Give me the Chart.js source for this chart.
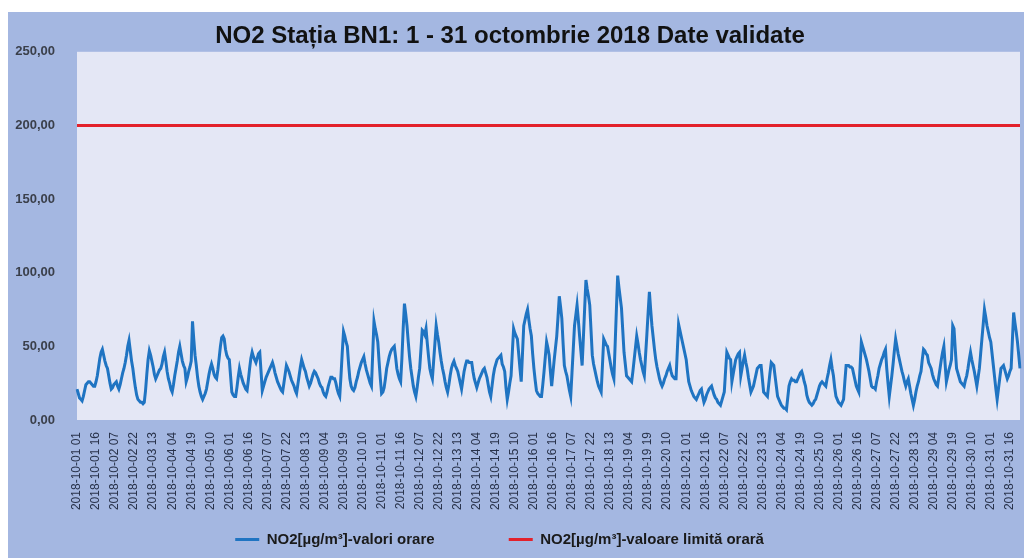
<!DOCTYPE html>
<html>
<head>
<meta charset="utf-8">
<script src="https://cdn.jsdelivr.net/npm/chart.js@4.4.0/dist/chart.umd.min.js"></script>
<style>
  html, body { margin: 0; padding: 0; background: #fff; }
</style>
</head>
<body>
<canvas id="no2Chart" width="1024" height="558"></canvas>
<script>
// categories: hourly values, 1 - 31 Oct 2018, hours 01..24
const luna = '2018-10';
const zile = 31;
const ore = 24;
const pasEticheta = 15; // a tick label every 15 hours

// NO2 hourly values (µg/m3), one row per day
const no2Orare = [
  21,18,15,14,13,16,20,24,25,26,26,25,24,23,23,26,30,36,42,46,48,44,40,37, // 01
  35,30,25,21,22,24,25,26,23,21,24,28,32,35,39,44,50,54,47,40,35,28,22,17, // 02
  14,13,12,12,11,12,20,31,41,47,44,40,36,31,28,30,32,34,35,38,43,46,40,33, // 03
  28,25,21,19,24,30,35,40,46,50,45,40,37,35,26,29,33,36,40,67,55,44,37,29, // 04
  23,19,16,14,16,18,21,26,31,35,38,35,31,29,28,34,42,50,56,57,55,48,44,42, // 05
  41,30,19,17,16,16,22,29,35,31,28,25,23,21,20,27,35,42,46,43,41,39,42,45, // 06
  46,33,20,23,26,29,31,33,35,37,39,36,32,29,26,24,22,20,19,25,31,37,35,33, // 07
  30,27,25,23,20,18,24,30,36,41,38,35,33,29,26,23,25,28,31,33,32,30,28,25, // 08
  23,22,19,17,16,19,23,26,29,29,28,28,25,21,18,16,30,46,60,57,53,50,38,28, // 09
  23,21,20,22,26,29,33,36,39,41,43,38,34,31,28,25,23,45,67,62,58,53,40,28, // 10
  18,19,22,28,35,39,43,46,48,49,50,43,35,31,28,26,42,62,79,72,64,53,43,35, // 11
  29,23,19,16,22,29,35,48,61,60,58,62,52,43,35,31,28,40,52,64,58,53,46,40, // 12
  35,31,26,22,19,24,30,35,38,40,37,35,33,29,25,21,27,33,37,40,40,39,39,39, // 13
  33,28,25,22,25,28,30,32,34,35,32,29,24,19,16,23,30,35,38,41,42,43,44,38, // 14
  36,33,22,14,19,25,30,46,62,59,57,55,45,35,26,45,64,68,72,75,68,62,57,45, // 15
  35,27,20,18,17,16,16,24,33,43,53,49,44,33,23,32,41,49,57,70,84,77,69,52, // 16
  37,33,30,25,20,16,32,48,64,71,78,68,57,47,37,56,76,95,89,84,78,61,44,38, // 17
  34,30,26,23,21,19,37,55,53,51,50,45,40,35,31,28,51,75,98,90,83,76,61,46, // 18
  38,30,29,28,27,26,33,41,49,57,52,46,41,37,33,30,44,58,73,87,75,64,56,48, // 19
  41,36,32,28,25,23,25,28,30,33,35,37,33,30,29,28,28,47,65,61,57,53,49,45, // 20
  41,33,26,23,20,18,16,15,14,16,18,20,21,16,12,14,17,19,21,22,23,20,17,15, // 21
  14,12,11,10,13,16,19,33,46,44,42,41,26,31,36,41,43,45,46,30,35,40,44,39, // 22
  35,29,24,19,21,23,27,31,35,36,37,37,28,19,18,17,16,24,32,39,38,37,30,23, // 23
  16,14,12,10, 9, 8, 8, 7,15,23,26,28,27,27,26,26,28,30,32,33,30,26,23,17, // 24
  14,12,11,10,11,13,14,17,20,23,25,26,25,24,23,28,32,37,41,35,30,22,16,14, // 25
  12,11,10,12,14,26,37,37,37,36,36,35,31,27,23,21,19,36,53,50,47,44,41,37, // 26
  33,28,23,22,22,21,26,30,35,38,41,43,46,48,35,25,16,23,30,38,47,55,50,45, // 27
  41,37,33,30,26,23,26,28,23,18,14,10,14,19,23,26,30,33,41,48,47,45,44,39, // 28
  37,35,31,28,26,24,23,29,35,41,46,50,38,26,30,34,37,41,64,62,48,35,32,29, // 29
  26,25,24,23,27,30,35,41,46,41,37,33,28,23,29,35,45,55,65,75,70,64,60,56, // 30
  53,45,37,29,21,14,21,28,35,36,37,34,31,28,30,33,35,54,73,66,60,53,44,35  // 31
];

// hourly limit value
const limitaOrara = 200;

const yTicks = [0, 50, 100, 150, 200, 250];

// build hour labels
const etichete = [];
for (let z = 1; z <= zile; z++) {
    for (let h = 1; h <= ore; h++) {
        etichete.push(luna + '-' + String(z).padStart(2, '0') + ' ' + String(h).padStart(2, '0'));
    }
}

// background: white strip, blue frame, lavender plot area
const fundal = {
    id: 'fundal',
    beforeDraw(chart) {
        const { ctx, chartArea, width, height } = chart;
        ctx.save();
        ctx.fillStyle = '#ffffff';
        ctx.fillRect(0, 0, width, height);
        ctx.fillStyle = '#a4b7e1';
        ctx.fillRect(8, 12, width - 8, height - 12);
        ctx.fillStyle = '#e4e7f5';
        ctx.fillRect(chartArea.left, chartArea.top, chartArea.right - chartArea.left, chartArea.bottom - chartArea.top);
        ctx.restore();
    }
};

const ctx = document.getElementById('no2Chart').getContext('2d');

new Chart(ctx, {
    type: 'line',
    data: {
        labels: etichete,
        datasets: [
            {
                label: 'NO2[µg/m³]-valori orare',
                data: no2Orare,
                borderColor: '#1f74c2',
                backgroundColor: '#1f74c2',
                borderWidth: 3,
                pointRadius: 0,
                tension: 0
            },
            {
                label: 'NO2[µg/m³]-valoare limită orară',
                data: [
                    { x: etichete[0], y: limitaOrara },
                    { x: etichete[etichete.length - 1], y: limitaOrara }
                ],
                borderColor: '#e3212b',
                backgroundColor: '#e3212b',
                borderWidth: 3,
                pointRadius: 0
            }
        ]
    },
    options: {
        responsive: false,
        animation: false,
        layout: {
            padding: { top: 12, left: 0, right: 4, bottom: 1 }
        },
        plugins: {
            title: {
                display: true,
                text: 'NO2 Stația BN1: 1 - 31 octombrie 2018 Date validate',
                color: '#111111',
                font: { family: 'Liberation Sans', size: 24, weight: 'bold' },
                padding: { top: 10, bottom: 1 }
            },
            legend: {
                position: 'bottom',
                labels: {
                    usePointStyle: true,
                    pointStyle: 'line',
                    pointStyleWidth: 24,
                    padding: 20,
                    color: '#1a1a1a',
                    font: { family: 'Liberation Sans', size: 15, weight: 'bold' },
                    generateLabels: function (chart) {
                        const items = Chart.defaults.plugins.legend.labels.generateLabels(chart);
                        // wider gap between the items and a slightly left-shifted row, as in the original
                        items[0].text = items[0].text + '\u00a0'.repeat(13);
                        items[1].text = items[1].text + '\u00a0'.repeat(5);
                        return items;
                    }
                }
            },
            tooltip: { enabled: false }
        },
        scales: {
            x: {
                grid: { display: false },
                border: { display: false },
                ticks: {
                    autoSkip: false,
                    maxRotation: 90,
                    minRotation: 90,
                    padding: 4,
                    color: '#28324a',
                    font: { family: 'Liberation Sans', size: 12 },
                    callback: function (value, index) {
                        return index % pasEticheta === 0 ? this.getLabelForValue(value) : null;
                    }
                },
                afterFit: function (scale) {
                    scale.height = 92;
                    scale.paddingRight = 0;
                }
            },
            y: {
                min: yTicks[0],
                max: yTicks[yTicks.length - 1],
                grid: { display: false },
                border: { display: false },
                ticks: {
                    stepSize: 50,
                    padding: 14,
                    color: '#3a3f4a',
                    font: { family: 'Liberation Sans', size: 13, weight: 'bold' },
                    callback: function (value) {
                        return value.toFixed(2).replace('.', ',');
                    }
                },
                afterFit: function (scale) {
                    scale.width = 77;
                }
            }
        }
    },
    plugins: [fundal]
});
</script>
</body>
</html>
